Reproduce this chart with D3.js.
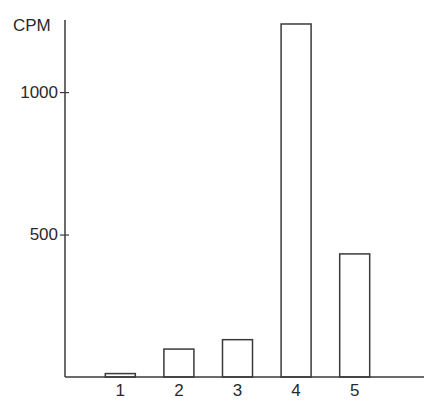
<!DOCTYPE html>
<html>
<head>
<meta charset="utf-8">
<script src="https://cdn.jsdelivr.net/npm/d3@7"></script>
<style>
  body { margin: 0; background: #fff; }
  svg { display: block; }
  text { font-family: "Liberation Sans", "DejaVu Sans", sans-serif; fill: #2a2a2a; }
</style>
</head>
<body>
<div id="chart"></div>
<script>
var categories = ["1", "2", "3", "4", "5"];
var cpm = [12, 98, 131, 1239, 432];
var yTicks = [500, 1000];

var width = 424, height = 401;
var ink = "#3a3a3a";

var svg = d3.select("#chart").append("svg")
    .attr("width", width)
    .attr("height", height);

var x = d3.scaleBand()
    .domain(categories)
    .range([65, 410])
    .paddingInner(0.488)
    .paddingOuter(0.688);

var y = d3.scaleLinear()
    .domain([0, 1253])
    .range([377, 20]);

// bars
svg.selectAll("rect.bar")
    .data(cpm)
  .enter().append("rect")
    .attr("class", "bar")
    .attr("x", function(d, i) { return x(categories[i]); })
    .attr("y", function(d) { return y(d); })
    .attr("width", x.bandwidth())
    .attr("height", function(d) { return y(0) - y(d); })
    .attr("fill", "none")
    .attr("stroke", ink)
    .attr("stroke-width", 1.5);

// x axis baseline
svg.append("line")
    .attr("x1", 65).attr("x2", width)
    .attr("y1", y(0)).attr("y2", y(0))
    .attr("stroke", ink)
    .attr("stroke-width", 1.5);

// y axis
var yAxis = svg.append("g")
    .attr("transform", "translate(65,0)")
    .call(d3.axisLeft(y).tickValues(yTicks).tickSize(4).tickPadding(2).tickFormat(d3.format("d")));
yAxis.select(".domain")
    .attr("d", "M0," + y.range()[1] + "V" + y(0))
    .attr("stroke", ink)
    .attr("stroke-width", 1.5);
yAxis.selectAll(".tick line")
    .attr("x1", -5).attr("x2", 4)
    .attr("stroke", ink)
    .attr("stroke-width", 1.2);
yAxis.selectAll(".tick text")
    .attr("x", -7)
    .style("font-size", "17px")
    .attr("fill", "#2a2a2a");

// x labels
svg.selectAll("text.xlab")
    .data(categories)
  .enter().append("text")
    .attr("class", "xlab")
    .attr("x", function(d) { return x(d) + x.bandwidth() / 2; })
    .attr("y", 396)
    .attr("text-anchor", "middle")
    .style("font-size", "17px")
    .text(function(d) { return d; });

svg.append("text")
    .attr("x", 13)
    .attr("y", 31)
    .style("font-size", "17px")
    .text("CPM");
</script>
</body>
</html>
